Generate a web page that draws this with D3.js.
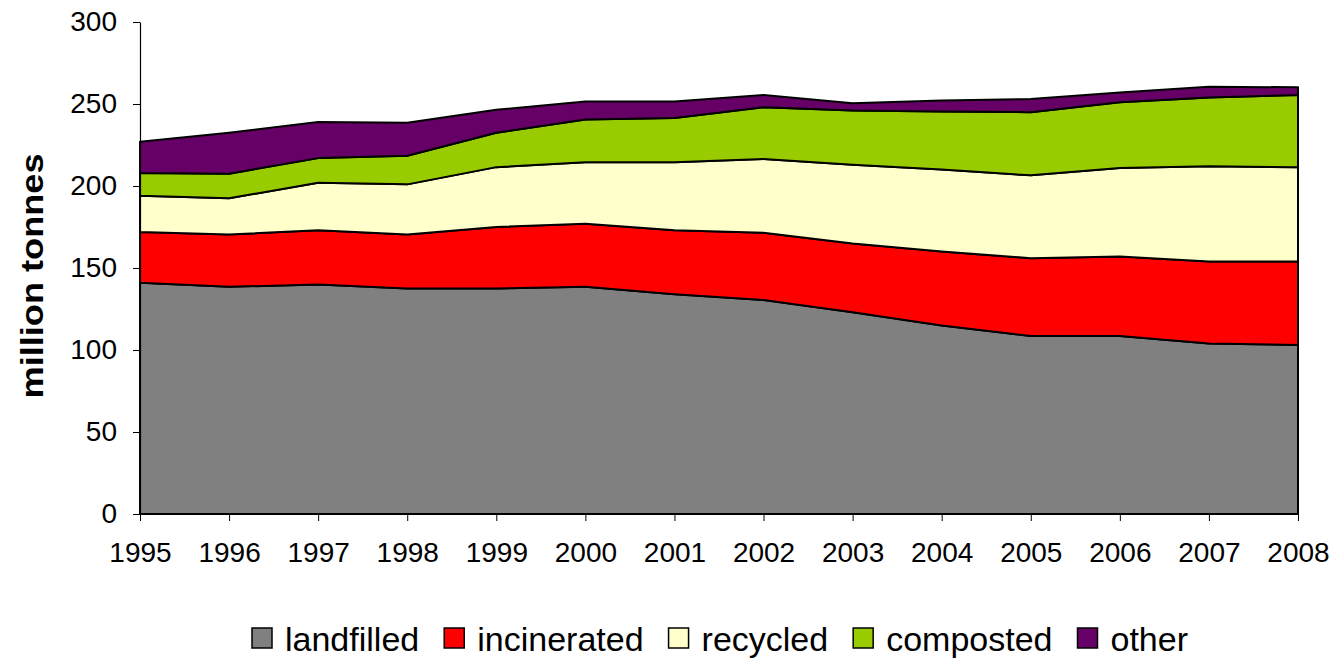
<!DOCTYPE html>
<html><head><meta charset="utf-8">
<script src="https://cdn.jsdelivr.net/npm/d3@7"></script>
<style>body{margin:0;background:#fff}svg{display:block}text{font-family:"Liberation Sans",Arial,sans-serif}</style>
</head><body>
<svg id="c" width="1334" height="660"></svg>
<script>
const years = [1995,1996,1997,1998,1999,2000,2001,2002,2003,2004,2005,2006,2007,2008];
const landfilled  = [141,138.5,140,137.5,137.5,138.5,134,130.5,123,115,108.5,108.5,104,103];
const incinerated = [31,32,33,33,37.5,38.5,39,41,42,45,47.5,48.5,50,51];
const recycled    = [22,22,29,30.5,36.5,37.5,41.5,45,48,50,50.5,54,58,57.5];
const composted   = [14,15,15,17.5,21,26,27,31.5,33,35.5,38.5,40,42,44];
const other       = [19,25,22,20,14,11,10,7.5,4.5,6.7,8,6,6.5,4.7];
const seriesNames = ["landfilled","incinerated","recycled","composted","other"];
const colors = ["#808080","#ff0000","#ffffcc","#99cc00","#660066"];
const yTicks = [0,50,100,150,200,250,300];

const svg = d3.select("#c");
const x = d3.scaleLinear().domain([1995,2008]).range([140,1298]);
const y = d3.scaleLinear().domain([0,300]).range([514,22]);

const rows = years.map((yr,i)=>({year:yr,landfilled:landfilled[i],incinerated:incinerated[i],recycled:recycled[i],composted:composted[i],other:other[i]}));
const stack = d3.stack().keys(seriesNames)(rows);
const area = d3.area().x(d=>x(d.data.year)).y0(d=>y(d[0])).y1(d=>y(d[1]));

svg.append("g").selectAll("path").data(stack).join("path")
  .attr("d",area).attr("fill",(d,i)=>colors[i])
  .attr("stroke","#000").attr("stroke-width",2).attr("stroke-linejoin","round");

// y axis
const ya = svg.append("g").attr("transform","translate(140,0)")
  .call(d3.axisLeft(y).tickValues(yTicks).tickSize(7).tickSizeOuter(0).tickPadding(16));
ya.select(".domain").attr("stroke","#000").attr("stroke-width",1.2);
ya.selectAll("line").attr("stroke","#000");
ya.selectAll("text").attr("font-size",28).attr("fill","#000");

// x axis
const xa = svg.append("g").attr("transform","translate(0,514)")
  .call(d3.axisBottom(x).tickValues(years).tickFormat(d3.format("d")).tickSize(7).tickSizeOuter(0).tickPadding(21));
xa.select(".domain").attr("stroke","#000").attr("stroke-width",1.2);
xa.selectAll("line").attr("stroke","#000");
xa.selectAll("text").attr("font-size",28).attr("fill","#000");

svg.append("text").attr("transform","translate(43,276) rotate(-90)")
  .attr("text-anchor","middle").attr("font-size",31).attr("font-weight","bold")
  .attr("textLength",245).attr("lengthAdjust","spacingAndGlyphs").text("million tonnes");

// legend
const lg = svg.append("g");
let cx = 0;
seriesNames.forEach((n,i)=>{
  const g = lg.append("g").attr("transform",`translate(${cx},0)`);
  g.append("rect").attr("x",0).attr("y",-23).attr("width",20).attr("height",20)
    .attr("fill",colors[i]).attr("stroke","#000").attr("stroke-width",1.5);
  const t = g.append("text").attr("x",33).attr("y",0).attr("font-size",34).text(n);
  cx += 33 + t.node().getComputedTextLength() + 25;
});
const totalW = cx - 25;
lg.attr("transform",`translate(${720 - totalW/2},651)`);
</script>
</body></html>
